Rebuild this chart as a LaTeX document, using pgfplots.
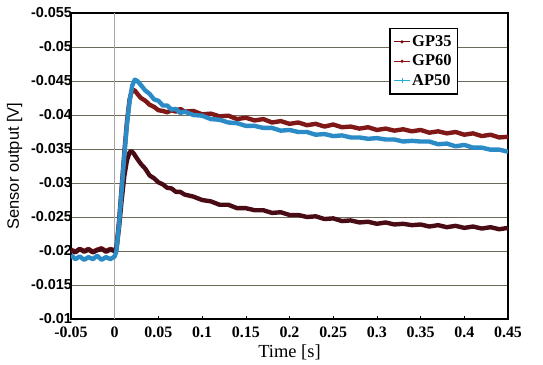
\documentclass[border=0pt]{standalone}
\usepackage{pgfplots}
\pgfplotsset{compat=1.18}
\usepackage{fontspec}
\setmainfont{Liberation Serif}
\setsansfont{Liberation Sans}
\definecolor{cGPa}{HTML}{4A0C14}
\definecolor{cGPb}{HTML}{801818}
\definecolor{cAP}{HTML}{2B8BC6}
\definecolor{cgrid}{HTML}{6E6A5A}
\begin{document}
\begin{tikzpicture}
\begin{axis}[
  name=ax,
  scale only axis,
  width=437bp, height=306bp,
  xmin=-0.05, xmax=0.45,
  ymin=-0.055, ymax=-0.01,
  y dir=reverse,
  scaled x ticks=false, scaled y ticks=false,
  xtick={-0.05,0,0.05,0.1,0.15,0.2,0.25,0.3,0.35,0.4,0.45},
  xticklabels={-0.05,0,0.05,0.1,0.15,0.2,0.25,0.3,0.35,0.4,0.45},
  ytick={-0.055,-0.05,-0.045,-0.04,-0.035,-0.03,-0.025,-0.02,-0.015,-0.01},
  yticklabels={-0.055,-0.05,-0.045,-0.04,-0.035,-0.03,-0.025,-0.02,-0.015,-0.01},
  ymajorgrids,
  major grid style={cgrid, line width=0.6pt},
  axis line style={black, line width=1.4pt},
  xtick pos=bottom, ytick pos=left,
  xtick align=inside,
  major tick length=3pt,
  ytick style={draw=none},
  xtick style={black, line width=0.6pt},
  xticklabel style={font=\fontsize{16}{18}\selectfont\bfseries, yshift=-4pt},
  yticklabel style={font=\sffamily\fontsize{14.5}{16}\selectfont\bfseries, xshift=4.5pt},
  xlabel={Time [s]},
  ylabel={Sensor output [V]},
  xlabel style={font=\fontsize{18.5}{20}\selectfont, yshift=-1pt},
  ylabel style={font=\sffamily\fontsize{16.5}{18}\selectfont, yshift=2pt},
  legend style={at={(rel axis cs:0.886,0.951)}, anchor=north east,
    draw=black, line width=1.4pt, font=\fontsize{16.5}{18}\selectfont\bfseries,
    row sep=3pt, inner xsep=4pt, inner ysep=5pt},
  legend image code/.code={\draw[#1] (0cm,0cm) -- (0.55cm,0cm); \draw[#1, mark repeat=2, mark phase=2] plot coordinates {(0cm,0cm) (0.275cm,0cm) (0.55cm,0cm)};},
  legend cell align=left,
]
\addlegendimage{cGPa!75!red, line width=0.8pt, mark=*, mark size=1.2pt}
\addlegendentry{GP35}
\addlegendimage{cGPb!85!red, line width=0.8pt, mark=*, mark size=1.2pt}
\addlegendentry{GP60}
\addlegendimage{cAP!70!cyan, line width=0.8pt, mark=+, mark size=2.4pt, mark options={line width=0.7pt}}
\addlegendentry{AP50}
% vertical line at t=0
\addplot[forget plot, gray!70, line width=0.6pt] coordinates {(0,-0.055) (0,-0.01)};
% GP60
\addplot[forget plot, cGPb, line width=4.4pt, line join=round] coordinates {
(-0.05,-0.0202) (-0.045,-0.0199) (-0.04,-0.0203) (-0.035,-0.0200) (-0.03,-0.0203) (-0.025,-0.0199)
(-0.02,-0.0202) (-0.015,-0.0204) (-0.01,-0.0200) (-0.005,-0.0203) (0,-0.0201)
(0.002,-0.0205) (0.005,-0.0245) (0.008,-0.0295) (0.011,-0.0345) (0.014,-0.0390) (0.017,-0.0423)
(0.020,-0.0437) (0.023,-0.0436) (0.026,-0.0431) (0.03,-0.0425) (0.035,-0.0421) (0.04,-0.0415)
(0.045,-0.0412) (0.05,-0.0407) (0.055,-0.0406) (0.06,-0.0404) (0.065,-0.0407) (0.07,-0.0405)
(0.075,-0.0409) (0.08,-0.0405) (0.09,-0.0406) (0.1,-0.0401) (0.11,-0.0402) (0.12,-0.0398)
(0.13,-0.0399) (0.14,-0.0394) (0.15,-0.0396) (0.16,-0.0392) (0.17,-0.0394) (0.18,-0.0389)
(0.19,-0.0391) (0.2,-0.0387) (0.21,-0.0389) (0.22,-0.0385) (0.23,-0.0387) (0.24,-0.0383)
(0.25,-0.0386) (0.26,-0.0382) (0.27,-0.0383) (0.28,-0.0380) (0.29,-0.0382) (0.30,-0.0378)
(0.31,-0.0380) (0.32,-0.0377) (0.33,-0.0379) (0.34,-0.0376) (0.35,-0.0378) (0.36,-0.0374)
(0.37,-0.0376) (0.38,-0.0373) (0.39,-0.0375) (0.40,-0.0371) (0.41,-0.0373) (0.42,-0.0369)
(0.43,-0.0371) (0.44,-0.0367) (0.45,-0.0368)
};
% GP35
\addplot[forget plot, cGPa, line width=4.4pt, line join=round] coordinates {
(-0.05,-0.0201) (-0.045,-0.0198) (-0.04,-0.0203) (-0.035,-0.0199) (-0.03,-0.0202) (-0.025,-0.0198)
(-0.02,-0.0201) (-0.015,-0.0203) (-0.01,-0.0199) (-0.005,-0.0202) (0,-0.0200)
(0.002,-0.0203) (0.005,-0.0235) (0.008,-0.0275) (0.011,-0.0310) (0.014,-0.0333) (0.017,-0.0345)
(0.019,-0.0347) (0.022,-0.0343) (0.025,-0.0337) (0.03,-0.0328) (0.035,-0.0321) (0.04,-0.0311)
(0.045,-0.0307) (0.05,-0.0301) (0.055,-0.0298) (0.06,-0.0293) (0.065,-0.0292) (0.07,-0.0287)
(0.075,-0.0287) (0.08,-0.0283) (0.09,-0.0280) (0.1,-0.0275) (0.11,-0.0273) (0.12,-0.0268)
(0.13,-0.0268) (0.14,-0.0263) (0.15,-0.0263) (0.16,-0.0260) (0.17,-0.0260) (0.18,-0.0256)
(0.19,-0.0257) (0.2,-0.0253) (0.21,-0.0253) (0.22,-0.0250) (0.23,-0.0251) (0.24,-0.0247)
(0.25,-0.0248) (0.26,-0.0244) (0.27,-0.0245) (0.28,-0.0242) (0.29,-0.0243) (0.30,-0.0240)
(0.31,-0.0242) (0.32,-0.0239) (0.33,-0.0240) (0.34,-0.0238) (0.35,-0.0239) (0.36,-0.0236)
(0.37,-0.0238) (0.38,-0.0235) (0.39,-0.0237) (0.40,-0.0234) (0.41,-0.0236) (0.42,-0.0233)
(0.43,-0.0235) (0.44,-0.0232) (0.45,-0.0234)
};
% AP50
\addplot[forget plot, cAP, line width=4.4pt, line join=round] coordinates {
(-0.05,-0.0194) (-0.045,-0.0188) (-0.04,-0.0192) (-0.035,-0.0187) (-0.03,-0.0191) (-0.025,-0.0188)
(-0.02,-0.0193) (-0.015,-0.0187) (-0.01,-0.0191) (-0.005,-0.0188) (0,-0.0192)
(0.002,-0.0200) (0.005,-0.0240) (0.008,-0.0290) (0.011,-0.0340) (0.014,-0.0385) (0.017,-0.0420)
(0.020,-0.0443) (0.023,-0.0452) (0.026,-0.0450) (0.03,-0.0444) (0.035,-0.0436) (0.04,-0.0431)
(0.045,-0.0423) (0.05,-0.0421) (0.055,-0.0414) (0.06,-0.0414) (0.065,-0.0408) (0.07,-0.0409)
(0.075,-0.0403) (0.08,-0.0405) (0.09,-0.0400) (0.1,-0.0399) (0.11,-0.0394) (0.12,-0.0393)
(0.13,-0.0389) (0.14,-0.0388) (0.15,-0.0384) (0.16,-0.0384) (0.17,-0.0381) (0.18,-0.0381)
(0.19,-0.0377) (0.2,-0.0378) (0.21,-0.0375) (0.22,-0.0375) (0.23,-0.0371) (0.24,-0.0372)
(0.25,-0.0369) (0.26,-0.0370) (0.27,-0.0367) (0.28,-0.0367) (0.29,-0.0365) (0.30,-0.0366)
(0.31,-0.0364) (0.32,-0.0364) (0.33,-0.0361) (0.34,-0.0362) (0.35,-0.0361) (0.36,-0.0361)
(0.37,-0.0357) (0.38,-0.0358) (0.39,-0.0354) (0.40,-0.0356) (0.41,-0.0352) (0.42,-0.0352)
(0.43,-0.0349) (0.44,-0.0349) (0.45,-0.0346)
};
\end{axis}
\path ([xshift=-71bp,yshift=-46bp]ax.south west) rectangle ([xshift=35bp,yshift=13bp]ax.north east);
\end{tikzpicture}
\end{document}
